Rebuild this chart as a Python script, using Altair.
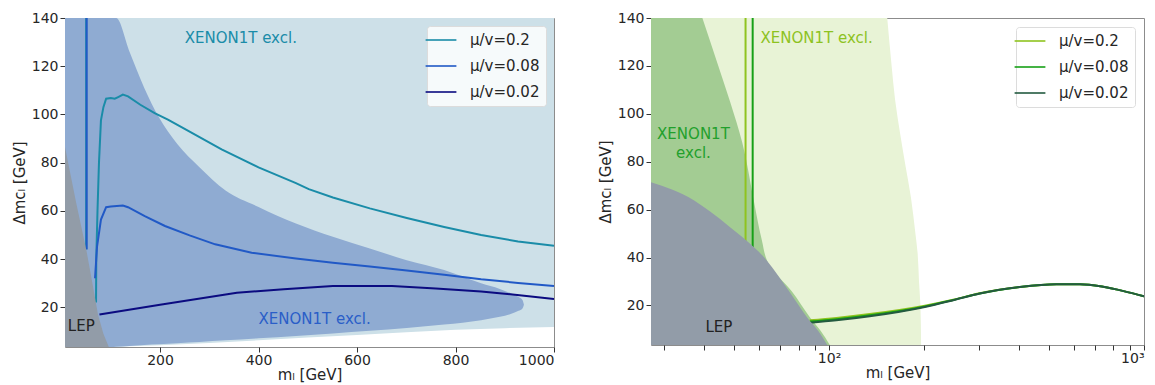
import altair as alt
import pandas as pd

# ---------------- data ----------------
L_XMIN, L_XMAX = 7, 1000
R_XMIN, R_XMAX = 27.2, 1000
Y_MIN, Y_MAX = 3.5, 140

SERIES = ["μ/v=0.2", "μ/v=0.08", "μ/v=0.02"]
L_COLORS = ["#1a8ca8", "#2159c6", "#0b0b80"]
R_COLORS = ["#8fc31f", "#17a017", "#245a40"]

# left panel: light XENON1T region (lower edge, up to top)
L_LIGHT_X = [7, 96, 200, 300, 400, 500, 600, 700, 800, 900, 1000]
L_LIGHT_LO = [3.5, 3.5, 4.2, 5.2, 6.3, 7.4, 8.5, 9.6, 10.7, 11.3, 11.8]

# left panel: dark XENON1T region
L_DARK_X = [7, 100, 111, 138, 168, 198, 235, 280, 333, 400, 476, 551, 626, 701, 777, 852, 890, 912, 928, 936, 939]
L_DARK_HI = [140, 140, 140, 126, 111, 98.7, 87.7, 78.1, 68.4, 61.6, 54.7, 49.2, 44.4, 39.5, 35.4, 29.9, 27.6, 25.8, 24.2, 23, 21]
L_DARK_LO = [3.5, 3.5, 3.6, 3.9, 4.3, 4.6, 5.1, 5.6, 6.3, 7.1, 8.1, 9.1, 10.2, 11.4, 12.8, 14.6, 16, 17.2, 18.5, 19.5, 21]

# left panel: LEP
L_LEP_X = [7, 30, 51, 60, 74, 85, 96]
L_LEP_Y = [86.5, 63, 43, 33, 17, 9, 3.5]

# left panel lines
L02_VX = [50, 50]
L02_VY = [44, 140]
L02_X = [70, 70.5, 73, 76, 80, 85, 90.5, 100, 108, 115, 124.5, 135, 160, 189, 216, 250, 325, 400, 476, 502, 551, 626, 701, 777, 852, 927, 1000]
L02_Y = [22, 40, 60, 80, 97.5, 103, 106.5, 106.8, 106.5, 107.2, 108.2, 107.5, 104, 100.5, 97.8, 94, 85.5, 78, 71.5, 69, 65.5, 61, 57, 53.3, 50, 47.3, 45.5]
L008_VX = [51, 51]
L008_VY = [44, 140]
L008_X = [68, 72, 80, 90.5, 100, 124.5, 135, 169, 210, 260, 312, 386, 476, 551, 626, 701, 777, 852, 927, 1000]
L008_Y = [32, 45, 56.4, 61.5, 61.8, 62.2, 61.5, 57.8, 53.7, 49.8, 46.1, 42.6, 40.2, 38.5, 36.9, 35.2, 33.5, 31.6, 30.1, 28.8]
L002_X = [77, 200, 356, 451, 551, 671, 760, 852, 930, 1000]
L002_Y = [17, 21, 26, 27.5, 28.8, 28.8, 27.8, 26.5, 25, 23.4]

# right panel: light green region (right edge per y)
R_LIGHT_Y = [3.5, 20, 30, 42, 50, 65, 78, 92, 106, 120, 140]
R_LIGHT_X2 = [196, 195, 193, 191, 188, 182, 175, 168, 162, 158, 153]
# right panel: mid green region
R_MID_Y = [3.5, 9.4, 15, 26, 37, 48, 62, 88, 105, 120, 140]
R_MID_X2 = [100.5, 94, 87, 76, 64.5, 61, 58, 53, 48.5, 44.5, 39.6]
# right panel: LEP
R_LEP_X = [27.2, 37.3, 41.8, 48.6, 63.5, 74.5, 85.2, 92.3, 98.7]
R_LEP_Y = [71.4, 63.8, 59.3, 52.6, 38.7, 26.1, 15, 9.4, 3.5]

# right panel lines
R02_VX = [54.3, 54.3]
R02_VY = [45.6, 140]
R008_VX = [57.2, 57.2]
R008_VY = [43.1, 140]
R_CURVE_X = [86.8, 105.5, 134.6, 201.4, 247.8, 301, 403, 527, 626, 742, 862, 1000]
R02_Y = [13.8, 14.8, 16.4, 19.9, 22.4, 25.1, 27.7, 28.9, 28.9, 27.8, 26, 23.8]
R008_Y = [13.3, 14.3, 15.9, 19.6, 22.3, 25, 27.7, 28.9, 28.9, 27.8, 26, 23.8]
R002_Y = [12.8, 13.8, 15.5, 19.4, 22.2, 25, 27.7, 28.9, 28.9, 27.8, 26, 23.8]

# annotations
L_TEXT = [
    {"x": 364, "y": 131.8, "t": "XENON1T excl.", "c": "#1a8ca8"},
    {"x": 514, "y": 15, "t": "XENON1T excl.", "c": "#2a5ec8"},
    {"x": 40, "y": 12.2, "t": "LEP", "c": "#222222"},
]
R_TEXT = [
    {"x": 91.3, "y": 131.7, "t": "XENON1T excl.", "c": "#8dc21f"},
    {"x": 37.1, "y": 91.5, "t": "XENON1T", "c": "#22a02c"},
    {"x": 37.1, "y": 83.5, "t": "excl.", "c": "#22a02c"},
    {"x": 44.7, "y": 11, "t": "LEP", "c": "#222222"},
]

# ---------------- helpers ----------------
def lines_df(segments):
    rows = []
    for k, (series, seg, xs, ys) in enumerate(segments):
        for i, (xv, yv) in enumerate(zip(xs, ys)):
            rows.append({"x": xv, "y": yv, "series": series, "seg": f"{k}", "i": i})
    return pd.DataFrame(rows)


Y_TITLE = "Δmᴄₗ [GeV]"
X_TITLE = "mₗ [GeV]"

ys = alt.Scale(domain=[Y_MIN, Y_MAX], nice=False, zero=False)
y_axis = alt.Axis(values=[20, 40, 60, 80, 100, 120, 140], title=Y_TITLE, grid=False, titlePadding=4)

xs_l = alt.Scale(domain=[L_XMIN, L_XMAX], nice=False, zero=False)
x_axis_l = alt.Axis(values=[200, 400, 600, 800, 1000], format="d", title=X_TITLE, grid=False,
                    titlePadding=0, labelPadding=1)

xs_r = alt.Scale(type="log", domain=[R_XMIN, R_XMAX], nice=False)
r_ticks = [30, 40, 50, 60, 70, 80, 90, 100, 200, 300, 400, 500, 600, 700, 800, 900, 1000]
x_axis_r = alt.Axis(values=r_ticks, title=X_TITLE, grid=False, titlePadding=0, labelPadding=1,
                    labelExpr="datum.value == 100 ? '10²' : (datum.value == 1000 ? '10³' : '')")


def X(field, scale, axis):
    return alt.X(field, scale=scale, axis=axis)


def Y(field):
    return alt.Y(field, scale=ys, axis=y_axis)


legend_common = dict(
    orient="top-right", title=None, labelFontSize=15, labelColor="#262626",
    symbolType="M-2.2,0H2.2", symbolSize=196, symbolStrokeWidth=1.6,
    labelOffset=21, rowPadding=10, padding=6, fillColor="rgba(255,255,255,0.82)",
    strokeColor="#dcdcdc", cornerRadius=3, labelFont="DejaVu Sans",
)

# ---------------- left panel ----------------
df_l_light = pd.DataFrame({"x": L_LIGHT_X, "y": L_LIGHT_LO, "y2": [Y_MAX] * len(L_LIGHT_X)})
df_l_dark = pd.DataFrame({"x": L_DARK_X, "y": L_DARK_LO, "y2": L_DARK_HI})
df_l_lep = pd.DataFrame({"x": L_LEP_X, "y": [Y_MIN] * len(L_LEP_X), "y2": L_LEP_Y})
df_l_lines = lines_df([
    (SERIES[0], 0, L02_VX, L02_VY),
    (SERIES[0], 1, L02_X, L02_Y),
    (SERIES[1], 2, L008_VX, L008_VY),
    (SERIES[1], 3, L008_X, L008_Y),
    (SERIES[2], 4, L002_X, L002_Y),
])
df_l_text = pd.DataFrame(L_TEXT)

l_light = alt.Chart(df_l_light).mark_area(color="#cde0e8", clip=True).encode(
    x=X("x:Q", xs_l, x_axis_l), y=Y("y:Q"), y2="y2:Q")
l_dark = alt.Chart(df_l_dark).mark_area(color="#8fabd2", clip=True, interpolate="monotone").encode(
    x=X("x:Q", xs_l, x_axis_l), y=Y("y:Q"), y2="y2:Q")
l_lines = alt.Chart(df_l_lines).mark_line(strokeWidth=2, clip=True).encode(
    x=X("x:Q", xs_l, x_axis_l), y=Y("y:Q"),
    color=alt.Color("series:N", scale=alt.Scale(domain=SERIES, range=L_COLORS),
                    legend=alt.Legend(offset=8, **legend_common)),
    detail="seg:N", order="i:Q")
l_lep = alt.Chart(df_l_lep).mark_area(color="#929ca8", clip=True).encode(
    x=X("x:Q", xs_l, x_axis_l), y=Y("y:Q"), y2="y2:Q")
l_text = alt.Chart(df_l_text).mark_text(fontSize=15, font="DejaVu Sans", align="center", baseline="middle").encode(
    x=X("x:Q", xs_l, x_axis_l), y=Y("y:Q"), text="t:N", color=alt.Color("c:N", scale=None))

left = alt.layer(l_light, l_dark, l_lines, l_lep, l_text).properties(width=489, height=329)

# ---------------- right panel ----------------
df_r_light = pd.DataFrame({"y": R_LIGHT_Y, "x": [R_XMIN] * len(R_LIGHT_Y), "x2": R_LIGHT_X2})
df_r_mid = pd.DataFrame({"y": R_MID_Y, "x": [R_XMIN] * len(R_MID_Y), "x2": R_MID_X2})
df_r_lep = pd.DataFrame({"x": R_LEP_X, "y": [Y_MIN] * len(R_LEP_X), "y2": R_LEP_Y})
df_r_lines = lines_df([
    (SERIES[0], 0, R02_VX, R02_VY),
    (SERIES[0], 1, R_CURVE_X, R02_Y),
    (SERIES[1], 2, R008_VX, R008_VY),
    (SERIES[1], 3, R_CURVE_X, R008_Y),
    (SERIES[2], 4, R_CURVE_X, R002_Y),
])
df_r_text = pd.DataFrame(R_TEXT)

r_light = alt.Chart(df_r_light).mark_area(color="#e8f3d6", clip=True, orient="horizontal",
                                          interpolate="monotone").encode(
    y=Y("y:Q"), x=X("x:Q", xs_r, x_axis_r), x2="x2:Q")
r_mid = alt.Chart(df_r_mid).mark_area(color="#a3cc93", clip=True, orient="horizontal",
                                      interpolate="monotone").encode(
    y=Y("y:Q"), x=X("x:Q", xs_r, x_axis_r), x2="x2:Q")
r_lines = alt.Chart(df_r_lines).mark_line(strokeWidth=2, clip=True, interpolate="monotone").encode(
    x=X("x:Q", xs_r, x_axis_r), y=Y("y:Q"),
    color=alt.Color("series:N", scale=alt.Scale(domain=SERIES, range=R_COLORS),
                    legend=alt.Legend(offset=9, **legend_common)),
    detail="seg:N", order="i:Q")
r_lep = alt.Chart(df_r_lep).mark_area(color="#929ca8", clip=True, interpolate="monotone").encode(
    x=X("x:Q", xs_r, x_axis_r), y=Y("y:Q"), y2="y2:Q")
r_text = alt.Chart(df_r_text).mark_text(fontSize=15, font="DejaVu Sans", align="center", baseline="middle").encode(
    x=X("x:Q", xs_r, x_axis_r), y=Y("y:Q"), text="t:N", color=alt.Color("c:N", scale=None))

right = alt.layer(r_light, r_mid, r_lines, r_lep, r_text).properties(width=493, height=327)

chart = alt.hconcat(left, right, spacing=42).resolve_scale(color="independent").properties(
    padding={"left": 3, "top": 2, "right": 0, "bottom": 0}
).configure(font="DejaVu Sans").configure_view(
    stroke="#8c8c8c", strokeWidth=1
).configure_axis(
    domain=False, labelFontSize=14, titleFontSize=15, labelColor="#262626", titleColor="#262626",
    titleFontWeight="normal", tickColor="#333333", tickSize=5, labelPadding=2,
    labelFont="DejaVu Sans", titleFont="DejaVu Sans"
)

chart.save("out.html", embed_options={"renderer": "svg", "actions": False})
